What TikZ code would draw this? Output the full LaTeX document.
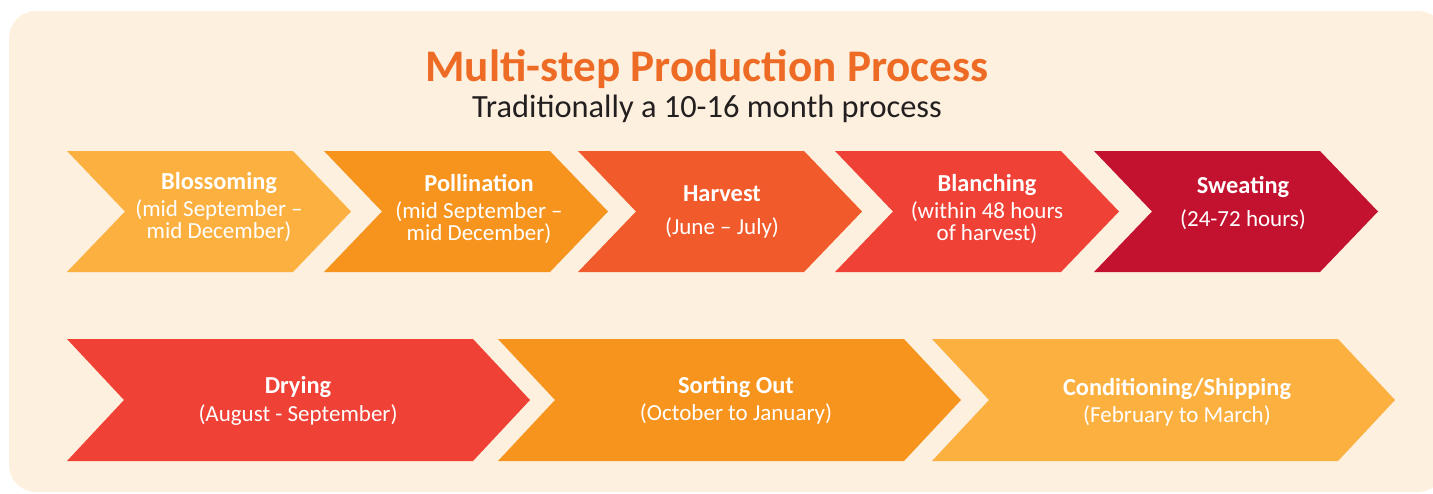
\documentclass[tikz,border=0pt]{standalone}
\usepackage{fontspec}
\setmainfont{Carlito}
\usepackage{tikz}
\definecolor{cream}{HTML}{FEF0DE}
\definecolor{titleorange}{HTML}{EE6B25}
\definecolor{subtitlegray}{HTML}{231F20}
\definecolor{lightorange}{HTML}{FBB040}
\definecolor{midorange}{HTML}{F7941E}
\definecolor{darkorange}{HTML}{F15A2B}
\definecolor{lightred}{HTML}{EF4136}
\definecolor{darkred}{HTML}{C3122F}
\newcommand{\stepname}[1]{{\fontsize{12.2}{12}\selectfont\bfseries #1}}

\begin{document}
\begin{tikzpicture}[x=0.5pt, y=-0.5pt,
		steptext/.style={align=center, text=white, font=\fontsize{11.5}{11.2}\selectfont}]
		\useasboundingbox (0,0) rectangle (1433,493);
		\fill[cream, rounded corners=13.5pt] (9,11) rectangle (1445,492);
		\node[anchor=base, text=titleorange, font=\fontsize{22.6}{28}\selectfont\bfseries] (title) at (707,81) {Multi-step Production Process};
		\node[anchor=base, text=subtitlegray, font=\fontsize{16.2}{20}\selectfont] (subtitle) at (707,117) {Traditionally a 10-16 month process};
		\fill[lightorange] (67,151) -- (293,151) -- (351,211.5) -- (293,272) -- (67,272) -- (125,211.5) -- cycle;
		\fill[midorange] (324,151) -- (550,151) -- (608,211.5) -- (550,272) -- (324,272) -- (382,211.5) -- cycle;
		\fill[darkorange] (578,151) -- (804,151) -- (862,211.5) -- (804,272) -- (578,272) -- (636,211.5) -- cycle;
		\fill[lightred] (835,151) -- (1061,151) -- (1119,211.5) -- (1061,272) -- (835,272) -- (893,211.5) -- cycle;
		\fill[darkred] (1094,151) -- (1320,151) -- (1378,211.5) -- (1320,272) -- (1094,272) -- (1152,211.5) -- cycle;
		\fill[lightred] (67,339) -- (473,339) -- (530,400) -- (473,461) -- (67,461) -- (124,400) -- cycle;
		\fill[midorange] (498,339) -- (904,339) -- (961,400) -- (904,461) -- (498,461) -- (555,400) -- cycle;
		\fill[lightorange] (932,339) -- (1338,339) -- (1395,400) -- (1338,461) -- (932,461) -- (989,400) -- cycle;
		\node[steptext] (blossoming) at (219,207) {\stepname{Blossoming}\\[2.5pt](mid September –\\mid December)};
		\node[steptext] (pollination) at (479,209) {\stepname{Pollination}\\[2.5pt](mid September –\\mid December)};
		\node[steptext] (harvest) at (722,212) {\stepname{Harvest}\\[5pt](June – July)};
		\node[steptext] (blanching) at (987,209) {\stepname{Blanching}\\[2.5pt](within 48 hours\\of harvest)};
		\node[steptext] (sweating) at (1243,203) {\stepname{Sweating}\\[5pt](24-72 hours)};
		\node[steptext] (drying) at (298,401) {\stepname{Drying}\\[2.5pt](August - September)};
		\node[steptext] (sorting) at (736,400.5) {\stepname{Sorting Out}\\[2.5pt](October to January)};
		\node[steptext] (conditioning) at (1177,402.5) {\stepname{Conditioning/Shipping}\\[2.5pt](February to March)};
	\end{tikzpicture}
\end{document}
